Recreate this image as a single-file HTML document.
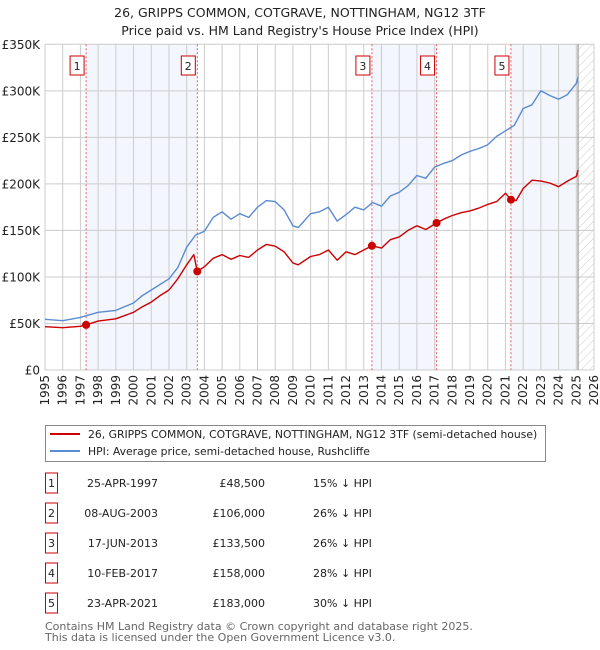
<!DOCTYPE html>
<html><head><meta charset="utf-8">
<style>
body{margin:0;background:#fff;font-family:"DejaVu Sans","Liberation Sans",sans-serif;}
#wrap{position:relative;width:600px;height:650px;overflow:hidden}
svg text{font-family:"DejaVu Sans","Liberation Sans",sans-serif;}
</style></head><body>
<div id="wrap">
<svg id="chart" width="600" height="650"></svg>
</div>
<script>
const yearTicks=[1995,1996,1997,1998,1999,2000,2001,2002,2003,2004,2005,2006,2007,2008,2009,2010,2011,2012,2013,2014,2015,2016,2017,2018,2019,2020,2021,2022,2023,2024,2025,2026];
const valueTicks=[0,50,100,150,200,250,300,350];
const valueLabels=["£0","£50K","£100K","£150K","£200K","£250K","£300K","£350K"];
const hpiYears=[1995,1996,1997,1998,1999,2000,2000.5,2001,2002,2002.5,2003,2003.5,2004,2004.5,2005,2005.5,2006,2006.5,2007,2007.5,2008,2008.5,2009,2009.3,2010,2010.5,2011,2011.5,2012,2012.5,2013,2013.5,2014,2014.5,2015,2015.5,2016,2016.5,2017,2017.5,2018,2018.5,2019,2019.5,2020,2020.5,2021,2021.5,2022,2022.5,2023,2023.5,2024,2024.5,2025,2025.1];
const hpiValues=[54.5,53,56.5,62,64,72,80,86,98,110,132,145,149,164,170,162,168,164,175,182,181,172,155,153,168,170,175,160,167,175,172,180,176,187,191,198,209,206,218,222,225,231,235,238,242,251,257,263,281,285,300,295,291,296,308,315];
const priceYears=[1995,1996,1997,1997.32,1998,1999,2000,2000.5,2001,2001.5,2002,2002.5,2003,2003.4,2003.6,2004,2004.5,2005,2005.5,2006,2006.5,2007,2007.5,2008,2008.5,2009,2009.3,2010,2010.5,2011,2011.5,2012,2012.5,2013,2013.46,2014,2014.5,2015,2015.5,2016,2016.5,2017.11,2017.5,2018,2018.5,2019,2019.5,2020,2020.5,2021,2021.31,2021.6,2022,2022.5,2023,2023.5,2024,2024.5,2025,2025.1];
const priceValues=[46.5,45.5,47,48.5,52.5,55,62,68,73,80,86,98,113,124,106,111,120,124,119,123,121,129,135,133,127,115,113,122,124,129,118,127,124,129,133.5,131,140,143,150,155,151,158,162,166,169,171,174,178,181,190,183,182,195,204,203,201,197,203,208,215];
const saleYears=[1997.32,2003.6,2013.46,2017.11,2021.31];
const saleValues=[48.5,106,133.5,158,183];
const saleLabels=["1","2","3","4","5"];
const saleDates=["25-APR-1997","08-AUG-2003","17-JUN-2013","10-FEB-2017","23-APR-2021"];
const salePrices=["£48,500","£106,000","£133,500","£158,000","£183,000"];
const saleDiffs=["15% ↓ HPI","26% ↓ HPI","26% ↓ HPI","28% ↓ HPI","30% ↓ HPI"];
const dataEnd=2025.1;

const X0=45,X1=594,Y0=370,Y1=44.3;
const xs=y=>X0+(y-1995)*(X1-X0)/31;
const ys=v=>Y0-v*(Y0-Y1)/350;
const svg=document.getElementById('chart');
const NS='http://www.w3.org/2000/svg';
function mk(tag,attrs,parent){const e=document.createElementNS(NS,tag);for(const k in attrs)e.setAttribute(k,attrs[k]);(parent||svg).appendChild(e);return e;}

let t=mk('text',{x:300,y:17,'text-anchor':'middle','font-size':'12.5',fill:'#222'});t.textContent='26, GRIPPS COMMON, COTGRAVE, NOTTINGHAM, NG12 3TF';


t=mk('text',{x:300,y:35,'text-anchor':'middle','font-size':'12.5',fill:'#222'});t.textContent="Price paid vs. HM Land Registry's House Price Index (HPI)";



for(let i=0;i<saleYears.length;i+=2){
  const a=saleYears[i],b=i+1<saleYears.length?saleYears[i+1]:dataEnd;
  const r=mk('rect',{x:xs(a),y:Y1,width:xs(b)-xs(a),height:Y0-Y1,fill:'#f3f6fd'});
  
  
}
const defs=mk('defs',{});
const pat=mk('pattern',{id:'hatch',width:6,height:6,patternUnits:'userSpaceOnUse',patternTransform:'rotate(45)'},defs);
mk('line',{x1:0,y1:0,x2:0,y2:6,stroke:'#ccc','stroke-width':1},pat);
let hr=mk('rect',{x:xs(dataEnd),y:Y1,width:X1-xs(dataEnd),height:Y0-Y1,fill:'url(#hatch)'});



yearTicks.forEach(y=>{const l=mk('line',{x1:xs(y),x2:xs(y),y1:Y1,y2:Y0,stroke:'#cccccc','stroke-width':1});


const tx=mk('text',{transform:`translate(${xs(y)+4},${Y0+5}) rotate(-90)`,'text-anchor':'end','font-size':'12',fill:'#222'});tx.textContent=y;

});
valueTicks.forEach((v,i)=>{const l=mk('line',{x1:X0,x2:X1,y1:ys(v),y2:ys(v),stroke:'#cccccc','stroke-width':1});


const tx=mk('text',{x:40,y:ys(v)+4.5,'text-anchor':'end','font-size':'12',fill:'#222'});tx.textContent=valueLabels[i];

});
let vl=mk('line',{x1:xs(dataEnd),x2:xs(dataEnd),y1:Y1,y2:Y0,stroke:'#888','stroke-width':1});



saleYears.forEach((y,i)=>{
  const l=mk('line',{x1:xs(y),x2:xs(y),y1:Y1,y2:Y0,stroke:'#e06060','stroke-width':1,'stroke-dasharray':'2,2'});
  
  
  const r=mk('rect',{x:xs(y)-16,y:56,width:14,height:19,fill:'#fff',stroke:'#cc0000','stroke-width':1});
  
  
  const tx=mk('text',{x:xs(y)-9,y:70,'text-anchor':'middle','font-size':'11',fill:'#222'});tx.textContent=saleLabels[i];
  
  
});

function line(xsA,vsA,color,name){
  const d=xsA.map((y,i)=>(i?'L':'M')+xs(y).toFixed(1)+','+ys(vsA[i]).toFixed(1)).join('');
  const p=mk('path',{d:d,fill:'none',stroke:color,'stroke-width':1.4,'stroke-linejoin':'round'});
  
  
}
line(hpiYears,hpiValues,'#5b8bd0','hpi-line');
line(priceYears,priceValues,'#cc0000','price-paid-line');
saleYears.forEach((y,i)=>{const c=mk('circle',{cx:xs(y),cy:ys(saleValues[i]),r:4,fill:'#cc0000'});

});

const lg=mk('g',{});


mk('rect',{x:45.5,y:425.5,width:500,height:36,fill:'#fff',stroke:'#888','stroke-width':1},lg);
mk('line',{x1:50,x2:80,y1:434,y2:434,stroke:'#cc0000','stroke-width':2},lg);
mk('line',{x1:50,x2:80,y1:451,y2:451,stroke:'#5b8bd0','stroke-width':2},lg);
t=mk('text',{x:88,y:438,'font-size':'10.8',fill:'#222'},lg);t.textContent='26, GRIPPS COMMON, COTGRAVE, NOTTINGHAM, NG12 3TF (semi-detached house)';


t=mk('text',{x:88,y:455,'font-size':'10.8',fill:'#222'},lg);t.textContent='HPI: Average price, semi-detached house, Rushcliffe';



saleLabels.forEach((s,i)=>{
  const cy=483+i*30;
  const r=mk('rect',{x:45.5,y:cy-10,width:12,height:20,fill:'#fff',stroke:'#cc0000','stroke-width':1});
  
  
  const cells=[[51.5,'middle',s],[158,'end',saleDates[i]],[265,'end',salePrices[i]],[313,'start',saleDiffs[i]]];
  cells.forEach(c=>{const tx=mk('text',{x:c[0],y:cy+4,'text-anchor':c[1],'font-size':'11',fill:'#222'});tx.textContent=c[2];
  
  });
});
t=mk('text',{x:45,y:630,'font-size':'11',fill:'#666'});t.textContent='Contains HM Land Registry data © Crown copyright and database right 2025.';


t=mk('text',{x:45,y:641,'font-size':'11',fill:'#666'});t.textContent='This data is licensed under the Open Government Licence v3.0.';


</script>
</body></html>
